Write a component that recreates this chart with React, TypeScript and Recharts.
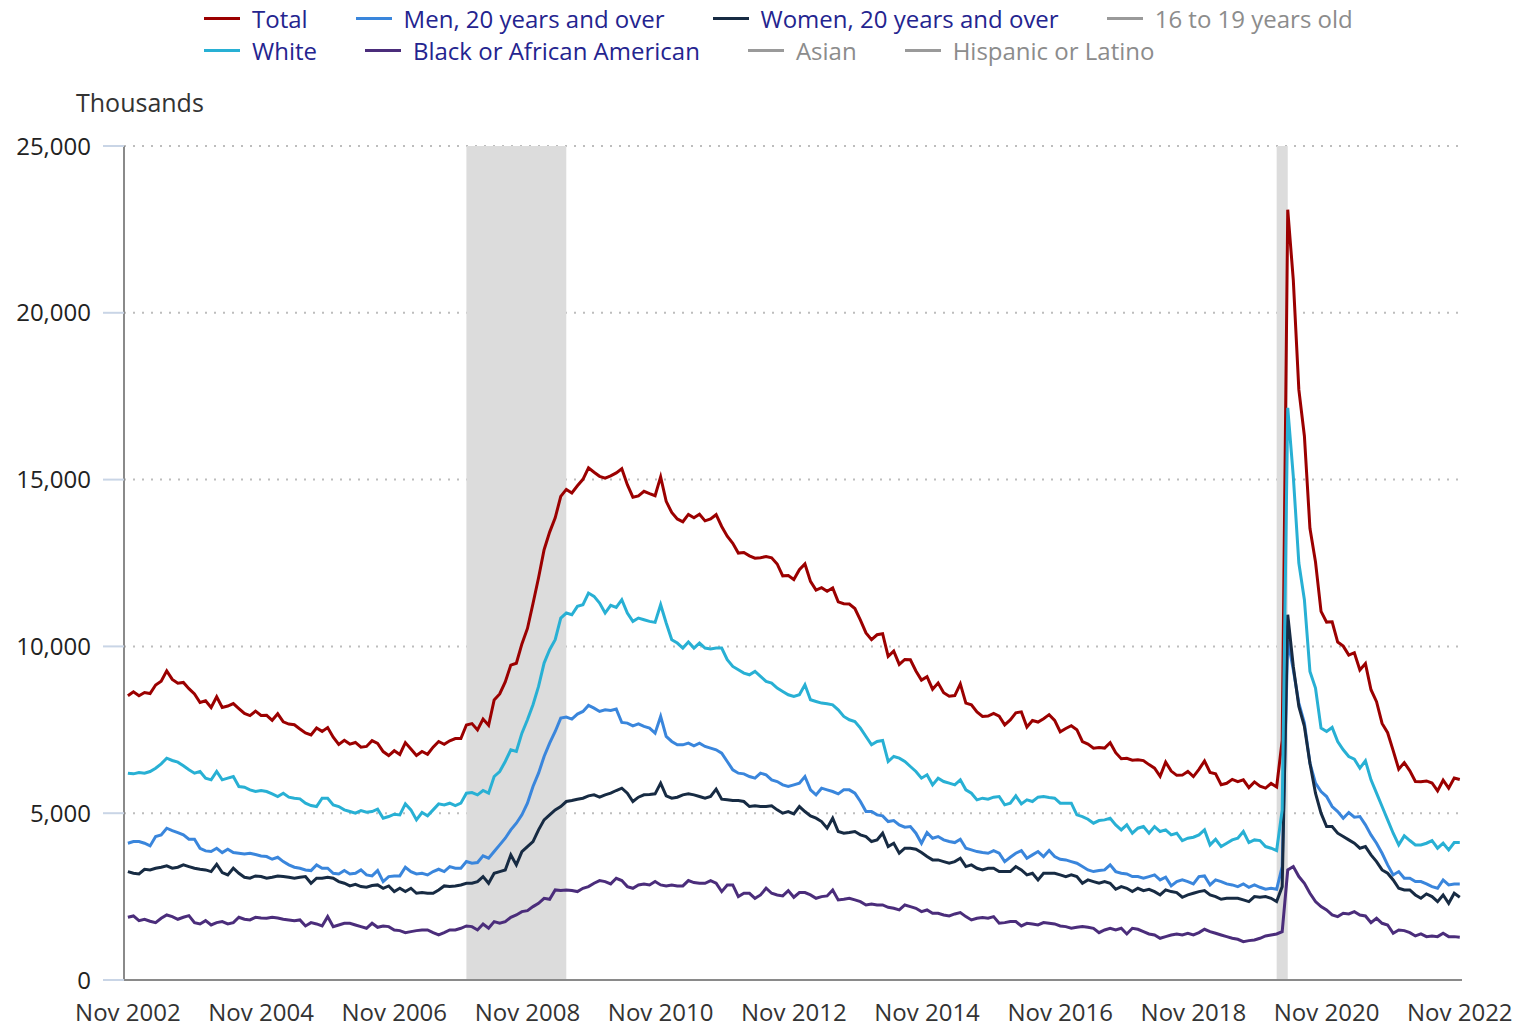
import {
  LineChart,
  Line,
  XAxis,
  YAxis,
  CartesianGrid,
  ReferenceArea,
  Legend,
} from "recharts";

// Unemployed persons, thousands, monthly Nov 2002 - Nov 2022
const TICK_LABELS = [
  "Nov 2002", "Nov 2004", "Nov 2006", "Nov 2008", "Nov 2010", "Nov 2012",
  "Nov 2014", "Nov 2016", "Nov 2018", "Nov 2020", "Nov 2022",
];
const Y_TICKS = [0, 5000, 10000, 15000, 20000, 25000];
const RECESSIONS = [
  ["Dec 2007", "Jun 2009"],
  ["Feb 2020", "Apr 2020"],
];

const TOTAL = [
  8520, 8640,
  8520, 8618, 8588, 8842, 8957, 9266, 9011, 8896, 8921, 8732, 8576, 8317,
  8370, 8167, 8491, 8170, 8212, 8286, 8136, 7990, 7927, 8061, 7932, 7934,
  7784, 7980, 7737, 7672, 7651, 7524, 7406, 7345, 7553, 7453, 7566, 7279,
  7064, 7184, 7072, 7120, 6980, 7001, 7175, 7091, 6847, 6727, 6872, 6762,
  7116, 6927, 6731, 6850, 6766, 6979, 7149, 7067, 7170, 7237, 7240, 7645,
  7685, 7497, 7822, 7637, 8395, 8575, 8937, 9438, 9494, 10074, 10538, 11286,
  12058, 12898, 13426, 13853, 14499, 14707, 14601, 14814, 15009, 15352, 15219, 15098,
  15046, 15113, 15202, 15325, 14849, 14474, 14512, 14648, 14579, 14516, 15081, 14348,
  14013, 13820, 13737, 13957, 13855, 13962, 13763, 13818, 13948, 13594, 13302, 13093,
  12797, 12813, 12713, 12646, 12660, 12692, 12656, 12471, 12115, 12124, 12005, 12298,
  12471, 11950, 11689, 11760, 11654, 11751, 11335, 11279, 11270, 11136, 10787, 10404,
  10202, 10349, 10380, 9702, 9859, 9460, 9608, 9599, 9262, 8990, 9090, 8717,
  8903, 8610, 8504, 8526, 8875, 8299, 8248, 8035, 7899, 7912, 7990, 7907,
  7647, 7798, 8008, 8037, 7583, 7777, 7732, 7833, 7954, 7780, 7441, 7539,
  7624, 7503, 7149, 7071, 6947, 6966, 6952, 7114, 6813, 6633, 6647, 6587,
  6600, 6576, 6456, 6350, 6108, 6532, 6262, 6135, 6141, 6251, 6096, 6312,
  6566, 6220, 6180, 5856, 5896, 6014, 5948, 5999, 5767, 5938, 5810, 5753,
  5892, 5787, 7185, 23090, 20985, 17697, 16308, 13542, 12535, 11049, 10728, 10736,
  10130, 10009, 9740, 9812, 9291, 9484, 8702, 8341, 7691, 7412, 6877, 6319,
  6516, 6270, 5952, 5946, 5967, 5906, 5667, 5989, 5750, 6054, 6011,
];

const MEN = [
  4100, 4150,
  4150, 4100, 4020, 4300, 4350, 4550, 4480, 4420, 4350, 4220, 4220, 3950,
  3870, 3850, 3950, 3820, 3920, 3820, 3800, 3780, 3800, 3760, 3720, 3700,
  3620, 3680, 3550, 3450, 3380, 3350, 3300, 3280, 3450, 3350, 3350, 3200,
  3180, 3280, 3180, 3200, 3300, 3150, 3120, 3280, 2950, 3100, 3120, 3120,
  3380, 3250, 3180, 3200, 3150, 3250, 3320, 3250, 3400, 3350, 3350, 3550,
  3500, 3520, 3720, 3650, 3850, 4050, 4250, 4500, 4700, 4950, 5300, 5800,
  6200, 6700, 7100, 7450, 7850, 7880, 7820, 7970, 8050, 8230, 8150, 8050,
  8100, 8080, 8120, 7720, 7700, 7620, 7680, 7600, 7550, 7400, 7900, 7300,
  7150, 7050, 7050, 7100, 7020, 7100, 7000, 6950, 6900, 6800, 6550, 6300,
  6200, 6180, 6100, 6050, 6200, 6150, 6000, 5950, 5850, 5800, 5850, 5900,
  6100, 5700, 5550, 5750, 5700, 5650, 5580, 5700, 5700, 5600, 5350, 5050,
  5050, 4950, 4920, 4750, 4780, 4650, 4580, 4600, 4400, 4100, 4420, 4250,
  4300, 4200, 4150, 4120, 4220, 3950, 3900, 3850, 3820, 3800, 3880, 3800,
  3550, 3680, 3800, 3880, 3650, 3750, 3850, 3700, 3880, 3700, 3620, 3600,
  3550, 3500, 3400, 3300, 3250, 3280, 3300, 3450, 3250, 3200, 3180, 3100,
  3100, 3050, 3100, 3150, 3000, 3080, 2820, 2950, 3000, 2950, 2880, 3100,
  3120, 2850, 3000, 2950, 2880, 2850, 2800, 2880, 2780, 2850, 2780, 2720,
  2750, 2720, 3400, 10200, 9300, 8300, 7700, 6500, 5900, 5650, 5500, 5200,
  5050, 4850, 5020, 4880, 4900, 4650, 4350, 4100, 3800, 3450, 3150, 3250,
  3050, 3050, 2950, 2950, 2880, 2800, 2750, 3000, 2850, 2880, 2880,
];

const WOMEN = [
  3250, 3200,
  3180, 3320, 3300, 3350, 3380, 3420, 3350, 3380, 3450, 3400, 3350, 3320,
  3300, 3250, 3470, 3220, 3150, 3350, 3200, 3080, 3050, 3120, 3100, 3050,
  3080, 3120, 3100, 3080, 3050, 3080, 3100, 2900, 3050, 3050, 3080, 3050,
  2950, 2900, 2820, 2870, 2800, 2780, 2830, 2850, 2750, 2820, 2650, 2750,
  2650, 2750, 2600, 2620, 2600, 2600, 2700, 2820, 2800, 2820, 2850, 2900,
  2900, 2950, 3100, 2900, 3200, 3250, 3300, 3750, 3450, 3850, 4000, 4150,
  4500, 4800, 4950, 5100, 5200, 5350, 5380, 5420, 5450, 5520, 5550, 5480,
  5550, 5600, 5680, 5750, 5600, 5350, 5480, 5550, 5560, 5580, 5900, 5520,
  5450, 5480, 5550, 5580, 5550, 5500, 5450, 5500, 5720, 5420, 5400, 5380,
  5380, 5350, 5200, 5220, 5200, 5200, 5220, 5100, 5000, 5050, 4980, 5200,
  5050, 4920, 4850, 4750, 4550, 4850, 4450, 4400, 4420, 4450, 4350, 4300,
  4150, 4200, 4400, 4000, 4100, 3800, 3950, 3950, 3920, 3820, 3700, 3600,
  3600, 3550, 3500, 3550, 3650, 3400, 3450, 3350, 3300, 3350, 3350, 3250,
  3250, 3250, 3400, 3300, 3150, 3200, 3000, 3200, 3200, 3200, 3150, 3100,
  3150, 3100, 2900, 3000, 2950, 2900, 2950, 2900, 2720, 2800, 2750, 2650,
  2750, 2680, 2720, 2650, 2550, 2700, 2650, 2620, 2480, 2550, 2600, 2650,
  2680, 2550, 2500, 2420, 2450, 2450, 2450, 2400, 2350, 2500, 2480, 2500,
  2450, 2350, 2800, 10950, 9400, 8200, 7600, 6500, 5600, 5000, 4600, 4600,
  4400, 4300, 4200, 4100, 3950, 4000, 3750, 3550, 3300, 3200, 3000, 2750,
  2700, 2700, 2550, 2450, 2580, 2500, 2350, 2550, 2300, 2600, 2480,
];

const WHITE = [
  6200, 6180,
  6220, 6200, 6250, 6350, 6480, 6650, 6580, 6530, 6420, 6300, 6200, 6250,
  6050, 6000, 6250, 6000, 6050, 6100, 5800, 5780, 5700, 5650, 5680, 5650,
  5580, 5500, 5600, 5480, 5450, 5430, 5300, 5230, 5200, 5450, 5450, 5250,
  5200, 5100, 5050, 5000, 5080, 5030, 5050, 5120, 4850, 4900, 4970, 4950,
  5280, 5100, 4800, 5020, 4920, 5100, 5280, 5250, 5300, 5230, 5300, 5600,
  5620, 5550, 5680, 5600, 6100, 6250, 6550, 6900, 6850, 7400, 7800, 8250,
  8800, 9500, 9900, 10200, 10850, 11000, 10950, 11200, 11250, 11600, 11500, 11300,
  11000, 11230, 11170, 11400, 11000, 10750, 10850, 10800, 10750, 10720, 11250, 10700,
  10200, 10100, 9950, 10130, 9950, 10100, 9950, 9920, 9950, 9950, 9600, 9400,
  9300, 9200, 9150, 9250, 9100, 8950, 8900, 8750, 8650, 8550, 8500, 8550,
  8850, 8400, 8350, 8300, 8280, 8250, 8100, 7900, 7800, 7750, 7550, 7300,
  7050, 7150, 7180, 6550, 6700, 6650, 6550, 6400, 6250, 6050, 6150, 5850,
  6050, 5950, 5900, 5850, 6000, 5700, 5600, 5400, 5450, 5420, 5480, 5500,
  5250, 5300, 5520, 5280, 5400, 5350, 5480, 5500, 5470, 5450, 5300, 5300,
  5300, 4950, 4900, 4820, 4700, 4780, 4800, 4850, 4650, 4500, 4650, 4400,
  4550, 4600, 4400, 4600, 4450, 4500, 4350, 4400, 4180, 4250, 4280, 4350,
  4500, 4050, 4220, 4000, 4100, 4200, 4250, 4450, 4120, 4200, 4180, 4000,
  3950, 3880, 5100, 17150, 15100, 12500, 11400, 9250, 8750, 7550, 7450, 7570,
  7150, 6900, 6700, 6620, 6350, 6570, 6000, 5600, 5200, 4800, 4400, 4050,
  4320, 4180, 4050, 4050, 4100, 4180, 3950, 4100, 3900, 4120, 4120,
];

const BLACK = [
  1880, 1920,
  1780, 1820, 1760, 1720, 1850, 1950, 1900, 1820, 1880, 1930, 1720, 1680,
  1780, 1650, 1720, 1750, 1680, 1720, 1880, 1820, 1800, 1880, 1860, 1850,
  1880, 1860, 1820, 1800, 1780, 1800, 1620, 1720, 1680, 1620, 1900, 1600,
  1650, 1700, 1700, 1650, 1600, 1550, 1700, 1580, 1620, 1600, 1500, 1480,
  1420, 1450, 1480, 1500, 1500, 1420, 1350, 1420, 1500, 1500, 1550, 1620,
  1600, 1500, 1680, 1550, 1750, 1700, 1750, 1880, 1950, 2050, 2080, 2200,
  2300, 2450, 2420, 2700, 2680, 2700, 2680, 2650, 2750, 2800, 2900, 2980,
  2950, 2880, 3050, 2980, 2800, 2750, 2850, 2880, 2850, 2950, 2850, 2820,
  2850, 2820, 2820, 2980, 2920, 2900, 2900, 2980, 2900, 2650, 2850, 2850,
  2500, 2600, 2600, 2450, 2550, 2750, 2600, 2550, 2520, 2680, 2480, 2620,
  2620, 2550, 2450, 2500, 2520, 2700, 2400, 2420, 2450, 2400, 2350, 2250,
  2280, 2250, 2250, 2180, 2150, 2100, 2250, 2200, 2150, 2050, 2100, 2000,
  2000, 1950, 1920, 1980, 2020, 1900, 1800, 1850, 1870, 1850, 1900, 1700,
  1720, 1750, 1750, 1620, 1700, 1680, 1650, 1720, 1700, 1680, 1620, 1600,
  1550, 1580, 1600, 1580, 1550, 1420, 1500, 1550, 1500, 1550, 1380, 1550,
  1520, 1450, 1380, 1350, 1250, 1300, 1350, 1380, 1350, 1400, 1350, 1420,
  1520, 1450, 1400, 1350, 1300, 1250, 1220, 1150, 1180, 1200, 1250, 1320,
  1350, 1380, 1450, 3300, 3400, 3100, 2900, 2600, 2350, 2200, 2100, 1950,
  1900, 2000, 1980, 2050, 1950, 1920, 1720, 1850, 1700, 1650, 1400, 1500,
  1480, 1420, 1320, 1380, 1300, 1320, 1300, 1400, 1300, 1300, 1280,
];

const SERIES = [
  { key: "total", name: "Total", color: "#9b0000" },
  { key: "men", name: "Men, 20 years and over", color: "#3a86dc" },
  { key: "women", name: "Women, 20 years and over", color: "#172b43" },
  { key: "white", name: "White", color: "#28b0d4" },
  { key: "black", name: "Black or African American", color: "#4b2d7b" },
];

// legend entries in display order; the three unused ones are greyed out
const LEGEND_ROWS = [
  ["Total", "Men, 20 years and over", "Women, 20 years and over", "16 to 19 years old"],
  ["White", "Black or African American", "Asian", "Hispanic or Latino"],
];

const MONTHS = ["Jan", "Feb", "Mar", "Apr", "May", "Jun", "Jul", "Aug", "Sep", "Oct", "Nov", "Dec"];

// months since Nov 2002
function monthIndex(label: string) {
  const [m, y] = label.split(" ");
  return (Number(y) - 2002) * 12 + MONTHS.indexOf(m) - 10;
}

const rows = TOTAL.map((total, i) => ({
  i,
  total,
  men: MEN[i],
  women: WOMEN[i],
  white: WHITE[i],
  black: BLACK[i],
}));

function ChartLegend() {
  return (
    <div style={{ paddingLeft: 204, paddingTop: 2 }}>
      {LEGEND_ROWS.map((row, r) => (
        <div
          key={r}
          style={{ display: "flex", gap: 48, height: 32, alignItems: "center" }}
        >
          {row.map((name) => {
            const s = SERIES.find((x) => x.name === name);
            return (
              <div key={name} style={{ display: "flex", alignItems: "center" }}>
                <span
                  style={{
                    display: "inline-block",
                    width: 36,
                    height: 3,
                    marginRight: 12,
                    background: s ? s.color : "#9a9a9a",
                  }}
                />
                <span
                  style={{
                    fontSize: 24,
                    whiteSpace: "nowrap",
                    color: s ? "#24248f" : "#8c8c8c",
                  }}
                >
                  {name}
                </span>
              </div>
            );
          })}
        </div>
      ))}
    </div>
  );
}

export default function App() {
  return (
    <div
      style={{
        position: "absolute",
        left: 0,
        top: 0,
        width: 1524,
        height: 1029,
        background: "#fff",
        fontFamily: "'Open Sans', sans-serif",
      }}
    >
      <div
        style={{
          position: "absolute",
          left: 76,
          top: 87,
          fontSize: 25,
          lineHeight: "30px",
          color: "#333",
        }}
      >
        Thousands
      </div>

      <LineChart
        width={1524}
        height={1029}
        data={rows}
        margin={{ top: 146, right: 62, bottom: 0, left: 0 }}
      >
        <Legend
          layout="horizontal"
          verticalAlign="middle"
          align="center"
          wrapperStyle={{ top: 0, left: 0, width: 1524, height: 70 }}
          content={() => <ChartLegend />}
        />

        {RECESSIONS.map(([from, to]) => (
          <ReferenceArea
            key={from}
            x1={monthIndex(from)}
            x2={monthIndex(to)}
            fill="#dcdcdc"
            fillOpacity={1}
            stroke="none"
          />
        ))}

        <CartesianGrid
          vertical={false}
          stroke="#bdbdbd"
          strokeWidth={2}
          strokeDasharray="2 7"
        />

        <XAxis
          dataKey="i"
          type="number"
          domain={[-0.7, 240.4]}
          allowDataOverflow
          ticks={TICK_LABELS.map((_, k) => k * 24)}
          tickFormatter={(v) => TICK_LABELS[Math.round(v / 24)]}
          height={49}
          tickLine={false}
          tickSize={0}
          tickMargin={24}
          axisLine={{ stroke: "#8a8a8a", strokeWidth: 2 }}
          tick={{ fill: "#333", fontSize: 24 }}
        />
        <YAxis
          width={124}
          domain={[0, 25000]}
          ticks={Y_TICKS}
          tickFormatter={(v) => v.toLocaleString("en-US")}
          tickSize={21}
          tickMargin={12}
          tickLine={{ stroke: "#c9d5e6", strokeWidth: 2 }}
          axisLine={{ stroke: "#8a8a8a", strokeWidth: 2 }}
          tick={{ fill: "#222", fontSize: 24 }}
        />

        {SERIES.map((s) => (
          <Line
            key={s.key}
            dataKey={s.key}
            name={s.name}
            type="linear"
            stroke={s.color}
            strokeWidth={3}
            dot={false}
            isAnimationActive={false}
          />
        ))}
      </LineChart>
    </div>
  );
}
